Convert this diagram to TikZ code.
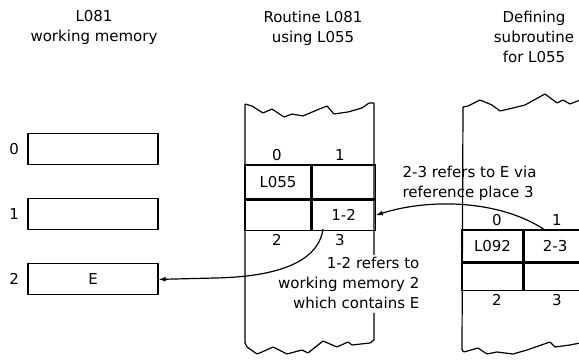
\documentclass[tikz,border=0pt]{standalone}
\usepackage{fontspec}
\setmainfont{DejaVu Sans}
\usetikzlibrary{arrows.meta,positioning}

\begin{document}
\begin{tikzpicture}[x=1pt, y=-1pt, line width=1.2pt,
    every node/.style={font=\fontsize{15}{20}\selectfont},
    memcell/.style={rectangle, draw, minimum width=130pt, minimum height=31pt, inner sep=0pt},
    cell/.style={rectangle, draw, inner sep=0pt},
    idx/.style={inner sep=0pt},
    title/.style={align=center, anchor=north, inner sep=0pt},
    note/.style={inner sep=0pt},
    arrow/.style={-{Latex[length=7pt,width=5pt]}}]

\useasboundingbox (0,0) rectangle (579,363);

% column titles
\node[title] (t1) at (94,10) {L081\\working memory};
\node[title] (t2) at (313,11) {Routine L081\\using L055};
\node[title] (t3) at (534,11) {Defining\\subroutine\\for L055};

% working memory of L081
\node[memcell] (wm0) at (93,149) {};
\node[memcell, below=33pt of wm0] (wm1) {};
\node[memcell, below=33pt of wm1] (wm2) {E};
\node[idx, left=8pt of wm0] (n0) {0};
\node[idx, left=8pt of wm1] (n1) {1};
\node[idx, left=8pt of wm2] (n2) {2};

% routine L081, torn strip
\draw[rounded corners=0.5pt] (245,343) -- (245,104) -- (252,106) -- (263,113) -- (272,109)
    -- (284,117) -- (292,114) -- (303,116) -- (317,110) -- (327,106) -- (334,114)
    -- (348,112) -- (362,108) -- (369,103) -- (374,103) -- (374,255);
\draw[rounded corners=0.5pt] (374,313) -- (374,340) -- (370,343) -- (352,345) -- (348,342)
    -- (337,347) -- (323,341) -- (308,353) -- (302,350) -- (287,354) -- (273,347)
    -- (262,352) -- (257,354) -- (247,347) -- (245,343);

\node[cell, minimum width=66pt, minimum height=34pt] (m00) at (278,182) {L055};
\node[cell, minimum width=63pt, minimum height=34pt, right=0pt of m00] (m01) {};
\node[cell, minimum width=66pt, minimum height=30pt, below=0pt of m00] (m10) {};
\node[cell, minimum width=63pt, minimum height=30pt, right=0pt of m10] (m11) {1-2};
\node[idx] (mi0) at (277,155) {0};
\node[idx] (mi1) at (340,155) {1};
\node[idx] (mi2) at (277,240) {2};
\node[idx] (mi3) at (340,240) {3};

% defining subroutine for L055
\draw[rounded corners=0.5pt] (580,100) -- (570,104) -- (563,100) -- (557,103) -- (545,94)
    -- (525,105) -- (513,108) -- (500,111) -- (492,105) -- (480,100) -- (468,106)
    -- (463,107) -- (462,350) -- (464,352) -- (478,348) -- (487,354) -- (497,352)
    -- (513,354) -- (527,350) -- (550,342) -- (555,347) -- (570,345) -- (580,343);

\node[cell, minimum width=61pt, minimum height=32pt] (r00) at (492.5,246) {L092};
\node[cell, minimum width=62pt, minimum height=32pt, right=0pt of r00] (r01) {2-3};
\node[cell, minimum width=61pt, minimum height=27pt, below=0pt of r00] (r10) {};
\node[cell, minimum width=62pt, minimum height=27pt, right=0pt of r10] (r11) {};
\node[idx] (ri0) at (497,220) {0};
\node[idx] (ri1) at (557,220) {1};
\node[idx] (ri2) at (497,300) {2};
\node[idx] (ri3) at (557,300) {3};

% references
\node[note, align=left, anchor=north west] (n23) at (402,166) {2-3 refers to E via\\reference place 3};
\node[note, align=right, anchor=north east] (n12) at (420,257) {1-2 refers to\\working memory 2\\which contains E};

\coordinate (s12) at (323,229);
\coordinate (s23) at (545,230);
\draw[arrow] (s12) .. controls (318,265) and (270,277) .. (215,278) -- (wm2.east);
\draw[arrow] (s23) .. controls (500,200) and (430,198) .. (m11.east);

\end{tikzpicture}
\end{document}
